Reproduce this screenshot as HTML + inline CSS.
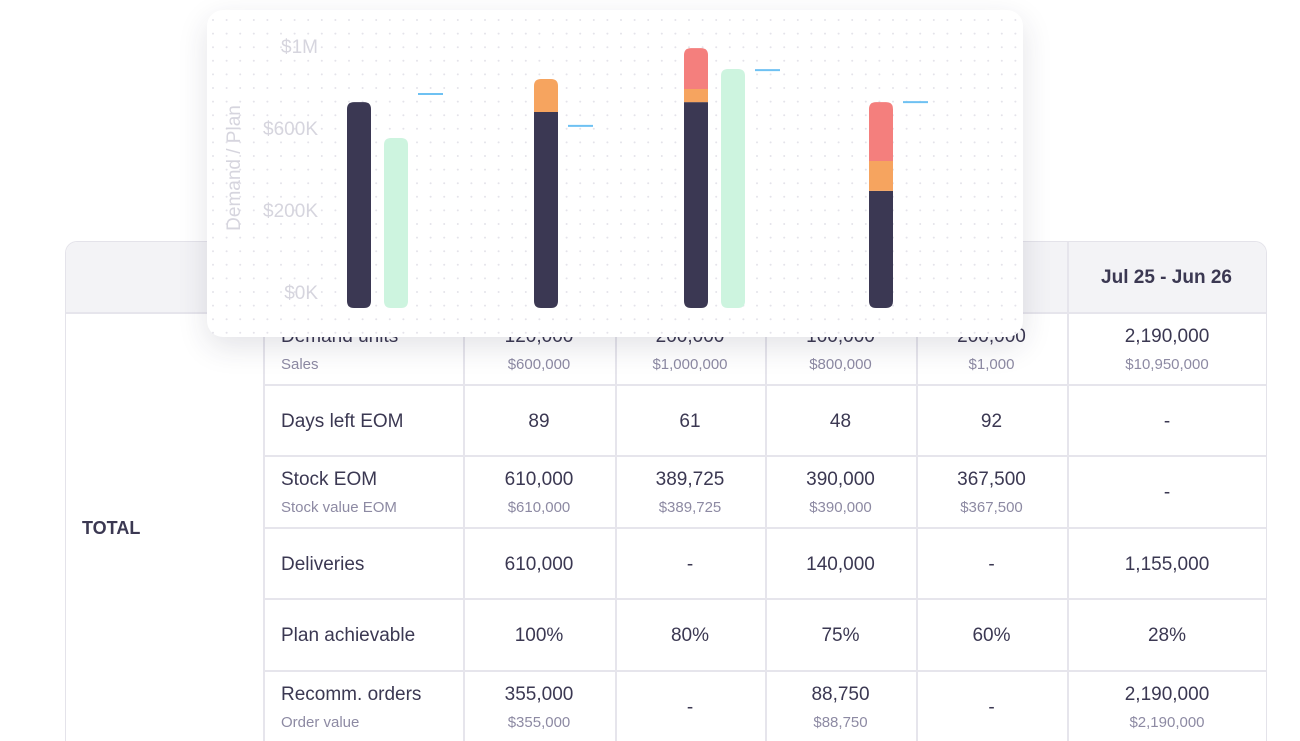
<!DOCTYPE html>
<html><head><meta charset="utf-8"><style>
body{margin:0;width:1300px;height:741px;background:#fff;overflow:hidden;font-family:"Liberation Sans",sans-serif;position:relative}
#tbl{position:absolute;left:65px;top:241px;width:1200px;height:499px;border:1px solid #e4e3ea;border-bottom:none;border-radius:12px 12px 0 0;overflow:hidden;background:#fff}
.hdr{position:absolute;left:0;top:0;width:1200px;height:70px;background:#f3f3f6;border-bottom:2px solid #e6e5ec}
.vl{position:absolute;width:2px;background:#e6e5ec}
.hl{position:absolute;height:2px;background:#e6e5ec;left:197px;width:1003px}
.t{position:absolute;color:#3b3852;font-size:19px;text-align:center;white-space:nowrap}
.s{position:absolute;color:#8d8aa3;font-size:15px;text-align:center;white-space:nowrap}
#card{position:absolute;left:207px;top:10px;width:816px;height:327px;background:#fff;border-radius:16px;box-shadow:0 10px 30px rgba(40,40,70,0.13)}
</style></head><body>
<div id="tbl">
<div class="hdr"></div>
<div class="t" style="left:1001px;width:199px;top:25px;font-weight:bold">Jul 25 - Jun 26</div>
<div class="t" style="left:16px;top:276px;font-weight:bold;text-align:left;font-size:18px">TOTAL</div>
</div>
<div id="card">
<svg id="chart" width="816" height="327"></svg>
</div>
<script>
const categories=["P1","P2","P3","P4"];
const demandBase=[786,748,786,447];
const demandOrange=[0,126,50,114];
const demandRed=[0,0,156,225];
const planValues=[649,null,912,null];
const targetValues=[817,695,908,786];
const tickLabels=["$0K","$200K","$600K","$1M"];
const rowLabels=["Demand units","Days left EOM","Stock EOM","Deliveries","Plan achievable","Recomm. orders"];
const rowSubLabels=["Sales","","Stock value EOM","","","Order value"];
const rowMain=[["120,000","200,000","100,000","200,000","2,190,000"],["89","61","48","92","-"],["610,000","389,725","390,000","367,500","-"],["610,000","-","140,000","-","1,155,000"],["100%","80%","75%","60%","28%"],["355,000","-","88,750","-","2,190,000"]];
const rowSub=[["$600,000","$1,000,000","$800,000","$1,000","$10,950,000"],null,["$610,000","$389,725","$390,000","$367,500",null],null,null,["$355,000",null,"$88,750",null,"$2,190,000"]];

const T=document.getElementById('tbl');
const colX=[197,397,549,699,850,1001,1201];
for(let i=0;i<6;i++){const v=document.createElement('div');v.className='vl';v.style.left=colX[i]+'px';v.style.top=(i==0?70:0)+'px';v.style.height=(i==0?429:499)+'px';

T.appendChild(v);}
const rowH=71.5;
rowLabels.forEach((lab,r)=>{
 const top=71+r*rowH;
 if(r>0){const h=document.createElement('div');h.className='hl';h.style.top=(top-1)+'px';
 
 T.appendChild(h);}
 const hasSub=rowSubLabels[r]!=="";
 const ty=hasSub?top+13:top+26;
 const l=document.createElement('div');l.className='t';l.textContent=lab;l.style.left='215px';l.style.top=ty+'px';l.style.textAlign='left';
 
 T.appendChild(l);
 if(hasSub){const s=document.createElement('div');s.className='s';s.textContent=rowSubLabels[r];s.style.left='215px';s.style.top=(top+43)+'px';s.style.textAlign='left';
 
 T.appendChild(s);}
 rowMain[r].forEach((val,c)=>{
  const x=colX[c+1],w=colX[c+2]-colX[c+1];
  const subv=rowSub[r]?rowSub[r][c]:null;
  const d=document.createElement('div');d.className='t';d.textContent=val;d.style.left=x+'px';d.style.width=w+'px';d.style.top=(subv?top+13:top+26)+'px';
  
  T.appendChild(d);
  if(subv){const s=document.createElement('div');s.className='s';s.textContent=subv;s.style.left=x+'px';s.style.width=w+'px';s.style.top=(top+43)+'px';
  
  T.appendChild(s);}
 });
});

const NS='http://www.w3.org/2000/svg';const svg=document.getElementById('chart');
function mk(tag,a){const e=document.createElementNS(NS,tag);for(const k in a)e.setAttribute(k,a[k]);svg.appendChild(e);return e;}
const y0=298,yTop=36,vMax=1000;
const y=v=>y0-v/vMax*(y0-yTop);
const groupLayout=[140,327,477,662];
const gx=i=>groupLayout[i];
const tickY=i=>282-i*82;
const bw=24;
for(let yy=10;yy<327;yy+=13.6)for(let xx=6;xx<816;xx+=13.6){const d=mk('circle',{cx:xx,cy:yy,r:1,fill:'#e4e3ea'});

}
tickLabels.forEach((t,i)=>{const e=mk('text',{x:111,y:tickY(i)+7,'text-anchor':'end','font-size':19,fill:'#d6d5de'});e.textContent=t;

});
const at=mk('text',{x:33,y:158,'text-anchor':'middle','font-size':19,fill:'#d6d5de',transform:'rotate(-90 33 158)'});at.textContent='Demand / Plan';


function bar(x,vTop,vBot,color,roundTop,roundBot){
 const yt=y(vTop),yb=y(vBot),r=7;
 const tr=roundTop?r:0,br=roundBot?r:0;
 const d=`M${x},${yt+tr} Q${x},${yt} ${x+tr},${yt} L${x+bw-tr},${yt} Q${x+bw},${yt} ${x+bw},${yt+tr} L${x+bw},${yb-br} Q${x+bw},${yb} ${x+bw-br},${yb} L${x+br},${yb} Q${x},${yb} ${x},${yb-br} Z`;
 return mk('path',{d,fill:color});
}
categories.forEach((c,i)=>{
 const x=gx(i);
 const segs=[[demandBase[i],'#3b3853'],[demandOrange[i],'#f6a45f'],[demandRed[i],'#f47f7d']].filter(s=>s[0]>0);
 let acc=0;
 segs.forEach((s,k)=>{const b=bar(x,acc+s[0],acc,s[1],k==segs.length-1,k==0);acc+=s[0];
 
 });
 if(planValues[i]!=null){const p=bar(x+37,planValues[i],0,'#cdf4df',true,true);
 
 }
 const off=planValues[i]!=null?71:34;
 const m=mk('line',{x1:x+off,x2:x+off+25,y1:y(targetValues[i]),y2:y(targetValues[i]),stroke:'#6ec1f2','stroke-width':2});
 
 
});
</script>
</body></html>
